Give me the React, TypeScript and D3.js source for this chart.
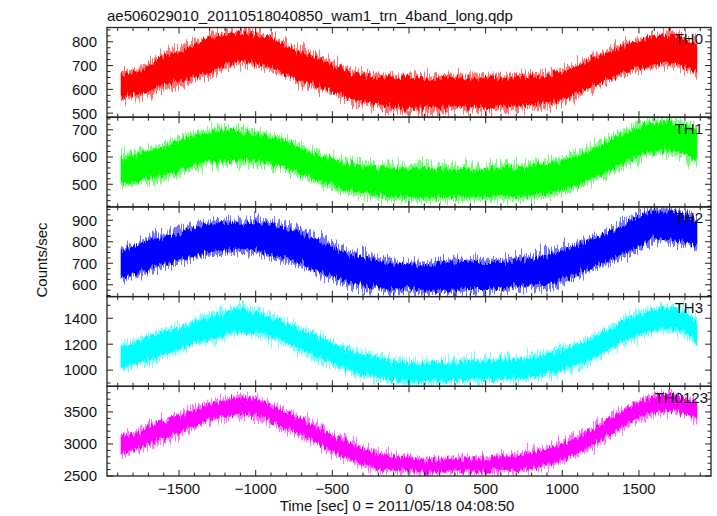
import React from "react";
import * as d3 from "d3";

// Time samples (sec, relative to 2011/05/18 04:08:50)
const TIME = [
  -1880, -1800, -1700, -1600, -1500, -1400, -1300, -1200, -1100, -1000,
  -900, -800, -700, -600, -500, -400, -300, -200, -100, 0,
  100, 200, 300, 400, 500, 600, 700, 800, 900, 1000,
  1100, 1200, 1300, 1400, 1500, 1600, 1700, 1800, 1880,
];

// Upper / lower envelopes of the count-rate scatter (counts/sec)
const TH0_HI = [675, 683, 711, 755, 770, 803, 831, 845, 852, 840, 831, 796, 768, 747, 718, 690, 672, 668, 665, 662, 662, 665, 662, 662, 662, 662, 665, 668, 675, 688, 711, 747, 768, 796, 817, 831, 845, 824, 803];
const TH0_LO = [550, 564, 578, 599, 615, 641, 655, 683, 704, 697, 676, 648, 620, 599, 578, 550, 536, 522, 515, 507, 507, 507, 514, 507, 507, 514, 514, 522, 529, 543, 571, 599, 627, 662, 676, 690, 697, 683, 655];

const TH1_HI = [612, 618, 636, 649, 673, 691, 704, 710, 704, 697, 685, 667, 642, 618, 606, 588, 581, 575, 569, 569, 575, 569, 569, 569, 569, 575, 575, 581, 588, 600, 618, 642, 673, 697, 722, 740, 740, 728, 710];
const TH1_LO = [490, 496, 508, 520, 539, 557, 569, 569, 575, 569, 563, 551, 527, 502, 484, 466, 460, 447, 441, 441, 435, 441, 441, 441, 441, 447, 441, 447, 454, 466, 484, 508, 533, 563, 594, 606, 612, 594, 581];

const TH2_HI = [775, 791, 822, 838, 853, 877, 900, 908, 908, 908, 900, 877, 853, 822, 791, 760, 744, 729, 713, 705, 705, 713, 721, 721, 721, 721, 729, 736, 752, 775, 799, 830, 861, 900, 931, 955, 955, 939, 908];
const TH2_LO = [620, 635, 659, 682, 698, 721, 736, 744, 752, 744, 721, 705, 682, 651, 627, 596, 581, 573, 565, 565, 557, 557, 557, 565, 565, 573, 581, 581, 588, 604, 635, 666, 698, 729, 760, 799, 791, 783, 760];

const TH3_HI = [1203, 1229, 1267, 1318, 1344, 1395, 1433, 1459, 1498, 1459, 1421, 1382, 1331, 1280, 1229, 1177, 1139, 1113, 1087, 1075, 1062, 1075, 1075, 1087, 1087, 1100, 1100, 1113, 1139, 1177, 1216, 1267, 1331, 1395, 1446, 1485, 1498, 1459, 1395];
const TH3_LO = [1000, 1023, 1062, 1100, 1138, 1190, 1216, 1254, 1280, 1267, 1241, 1190, 1138, 1087, 1036, 985, 946, 921, 908, 895, 895, 895, 908, 908, 908, 921, 921, 934, 946, 985, 1023, 1075, 1138, 1203, 1254, 1292, 1292, 1267, 1177];

const TH0123_HI = [3164, 3190, 3293, 3397, 3475, 3578, 3656, 3708, 3760, 3734, 3630, 3526, 3423, 3293, 3164, 3060, 2957, 2879, 2827, 2802, 2776, 2776, 2776, 2802, 2802, 2827, 2853, 2905, 2957, 3034, 3138, 3267, 3423, 3552, 3682, 3760, 3812, 3734, 3682];
const TH0123_LO = [2803, 2880, 2958, 3061, 3138, 3267, 3345, 3397, 3423, 3397, 3319, 3216, 3112, 2983, 2854, 2751, 2647, 2595, 2569, 2543, 2543, 2543, 2543, 2543, 2543, 2569, 2569, 2595, 2647, 2724, 2827, 2957, 3112, 3241, 3371, 3474, 3500, 3423, 3345];

const NAMES = ["TH0", "TH1", "TH2", "TH3", "TH0123"];
const HIS = [TH0_HI, TH1_HI, TH2_HI, TH3_HI, TH0123_HI];
const LOS = [TH0_LO, TH1_LO, TH2_LO, TH3_LO, TH0123_LO];
const COLORS = ["#ff0000", "#00ff00", "#0000ff", "#00ffff", "#ff00ff"];
const Y_DOMAINS: [number, number][] = [[483, 860], [417, 746], [545, 962], [875, 1567], [2500, 3900]];
const Y_MAJOR = [100, 100, 100, 200, 500];
const Y_MINOR = [25, 20, 25, 100, 100];
const X_DOMAIN: [number, number] = [-1970, 1970];
const X_MAJOR = 500;
const X_MINOR = 100;

const TITLE = "ae506029010_20110518040850_wam1_trn_4band_long.qdp";
const X_LABEL = "Time [sec] 0 = 2011/05/18 04:08:50";
const Y_LABEL = "Counts/sec";

// layout
const W = 717, H = 516;
const L = 107, R = 711, TOP = 27.5, BOT = 476;
const PH = (BOT - TOP) / 5;
const LABEL_RIGHT = [703, 703, 703, 703, 708];
const FONT = "'Liberation Sans', Arial, Helvetica, sans-serif";
const AXIS = "#222";

function ticks(d0: number, d1: number, step: number) {
  const out: number[] = [];
  const s = Math.ceil(d0 / step - 1e-9);
  for (let k = s; k * step <= d1 + 1e-9; k++) out.push(k * step);
  return out;
}

export default function App() {
  const x = d3.scaleLinear().domain(X_DOMAIN).range([L, R]);
  const xMajor = ticks(X_DOMAIN[0], X_DOMAIN[1], X_MAJOR);
  const xMinor = ticks(X_DOMAIN[0], X_DOMAIN[1], X_MINOR).filter((v) => v % X_MAJOR !== 0);

  return (
    <svg width={W} height={H} style={{ position: "absolute", left: 0, top: 0, background: "#fff" }}
      fontFamily={FONT} fontSize={15}>
      <defs>
        {/* jagged vertical texture for the noisy light-curve band (vertical displacement only) */}
        <filter id="jagOuter" filterUnits="userSpaceOnUse" x={0} y={0} width={W} height={H}>
          <feTurbulence type="fractalNoise" baseFrequency="0.7 0.015" numOctaves={2} seed={3} result="n" />
          <feColorMatrix in="n" type="matrix"
            values="0 0 0 0 0.5  0 1 0 0 0  0 0 0 0 0  0 0 0 0 1" result="nm" />
          <feDisplacementMap in="SourceGraphic" in2="nm" scale={26} xChannelSelector="R" yChannelSelector="G" />
        </filter>
        <filter id="jagInner" filterUnits="userSpaceOnUse" x={0} y={0} width={W} height={H}>
          <feTurbulence type="fractalNoise" baseFrequency="0.45 0.02" numOctaves={2} seed={7} result="n" />
          <feColorMatrix in="n" type="matrix"
            values="0 0 0 0 0.5  0 1 0 0 0  0 0 0 0 0  0 0 0 0 1" result="nm" />
          <feDisplacementMap in="SourceGraphic" in2="nm" scale={14} xChannelSelector="R" yChannelSelector="G" />
        </filter>
      </defs>
      <rect x={0} y={0} width={W} height={H} fill="#fff" />
      <text x={107} y={20.5} fill="#111">{TITLE}</text>
      {NAMES.map((name, i) => {
        const t0 = TOP + i * PH;
        const t1 = t0 + PH;
        const y = d3.scaleLinear().domain(Y_DOMAINS[i]).range([t1, t0]);
        const idx = d3.range(TIME.length);
        const outer = d3.area<number>()
          .x((k) => x(TIME[k]))
          .y0((k) => y(LOS[i][k]))
          .y1((k) => y(HIS[i][k]))
          .curve(d3.curveMonotoneX);
        const inner = d3.area<number>()
          .x((k) => x(TIME[k]))
          .y0((k) => y(LOS[i][k] + 0.1 * (HIS[i][k] - LOS[i][k])))
          .y1((k) => y(HIS[i][k] - 0.1 * (HIS[i][k] - LOS[i][k])))
          .curve(d3.curveMonotoneX);
        const yMaj = ticks(Y_DOMAINS[i][0], Y_DOMAINS[i][1], Y_MAJOR[i]);
        const yMin = ticks(Y_DOMAINS[i][0], Y_DOMAINS[i][1], Y_MINOR[i]).filter((v) => v % Y_MAJOR[i] !== 0);
        const clipId = `clip${i}`;
        return (
          <g key={name}>
            <clipPath id={clipId}>
              <rect x={L} y={t0} width={R - L} height={PH} />
            </clipPath>
            <g clipPath={`url(#${clipId})`}>
              <path d={outer(idx) || ""} fill={COLORS[i]} fillOpacity={0.55} filter="url(#jagOuter)" />
              <path d={inner(idx) || ""} fill={COLORS[i]} filter="url(#jagInner)" />
            </g>
            {/* x ticks top & bottom */}
            {xMajor.map((v) => (
              <g key={"xM" + v} stroke={AXIS} strokeWidth={1}>
                <line x1={x(v)} x2={x(v)} y1={t0} y2={t0 + 6} />
                <line x1={x(v)} x2={x(v)} y1={t1} y2={t1 - 6} />
              </g>
            ))}
            {xMinor.map((v) => (
              <g key={"xm" + v} stroke={AXIS} strokeWidth={1}>
                <line x1={x(v)} x2={x(v)} y1={t0} y2={t0 + 3.5} />
                <line x1={x(v)} x2={x(v)} y1={t1} y2={t1 - 3.5} />
              </g>
            ))}
            {/* y ticks left & right */}
            {yMaj.map((v) => (
              <g key={"yM" + v} stroke={AXIS} strokeWidth={1}>
                <line x1={L} x2={L + 6} y1={y(v)} y2={y(v)} />
                <line x1={R} x2={R - 6} y1={y(v)} y2={y(v)} />
              </g>
            ))}
            {yMin.map((v) => (
              <g key={"ym" + v} stroke={AXIS} strokeWidth={1}>
                <line x1={L} x2={L + 3.5} y1={y(v)} y2={y(v)} />
                <line x1={R} x2={R - 3.5} y1={y(v)} y2={y(v)} />
              </g>
            ))}
            {yMaj.map((v) => (
              <text key={"yl" + v} x={97} y={y(v) + 5.4} textAnchor="end" fill="#111">{v}</text>
            ))}
            <rect x={L} y={t0} width={R - L} height={PH} fill="none" stroke={AXIS} strokeWidth={1.3} />
            <text x={LABEL_RIGHT[i]} y={t0 + 16.3} textAnchor="end" fill="#111">{name}</text>
          </g>
        );
      })}
      {xMajor.map((v) => (
        <text key={"xl" + v} x={x(v)} y={494} textAnchor="middle" fill="#111">
          {v < 0 ? "\u2212" + Math.abs(v) : String(v)}
        </text>
      ))}
      <text x={397} y={511} textAnchor="middle" fill="#111">{X_LABEL}</text>
      <text transform="translate(47,260) rotate(-90)" textAnchor="middle" fill="#111">{Y_LABEL}</text>
    </svg>
  );
}
